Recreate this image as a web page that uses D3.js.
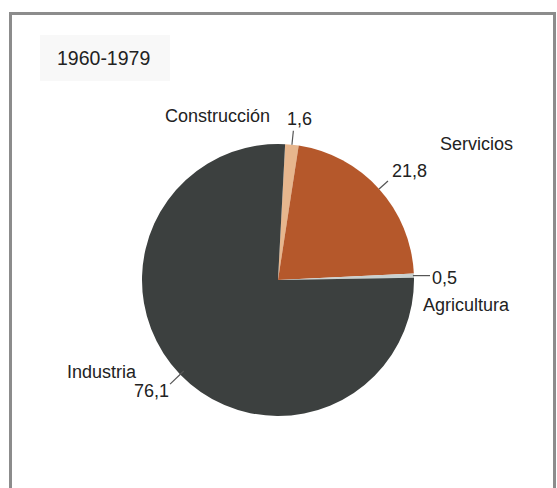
<!DOCTYPE html>
<html>
<head>
<meta charset="utf-8">
<script src="https://cdn.jsdelivr.net/npm/d3@7"></script>
<style>
  html, body { margin: 0; padding: 0; background: #fff; }
  svg { display: block; }
  text { font-family: "Liberation Sans", Arial, Helvetica, sans-serif; fill: #222; }
</style>
</head>
<body>
<svg id="chart" width="557" height="488"></svg>
<script>
// Share of each sector (%), 1960-1979
const title = "1960-1979";
const categories = ["Construcción", "Servicios", "Agricultura", "Industria"];
const values = [1.6, 21.8, 0.5, 76.1];
const valueLabels = ["1,6", "21,8", "0,5", "76,1"];
const colors = ["#e7b68d", "#b5582b", "#c9d0cf", "#3c403f"];

// Label placement for each sector: leader line (radii along slice middle) and text anchors
const labelLayout = {
  "Construcción": { r0: 136, r1: 150, horiz: false,
    val: { x: 287, y: 125, anchor: "start" }, name: { x: 270, y: 122, anchor: "end" } },
  "Servicios":    { r0: 136, r1: 148, horiz: false,
    val: { x: 392, y: 177, anchor: "start" }, name: { x: 440, y: 150, anchor: "start" } },
  "Agricultura":  { r0: 135, r1: 151, horiz: true,
    val: { x: 432, y: 284, anchor: "start" }, name: { x: 423, y: 311, anchor: "start" } },
  "Industria":    { r0: 131, r1: 150, horiz: false,
    val: { x: 169, y: 397, anchor: "end" }, name: { x: 136, y: 378, anchor: "end" } }
};

const svg = d3.select("#chart");
const cx = 278, cy = 280, radius = 136;

// Frame
svg.append("path")
  .attr("d", "M10.5,490 L10.5,13.5 L554.5,13.5 L554.5,490")
  .attr("fill", "none")
  .attr("stroke", "#8c8c8c")
  .attr("stroke-width", 3);

// Title with faint box
svg.append("rect")
  .attr("x", 40).attr("y", 35).attr("width", 130).attr("height", 46)
  .attr("fill", "#f8f8f8");
svg.append("text")
  .attr("x", 57).attr("y", 65)
  .attr("font-size", 19.5)
  .text(title);

const data = categories.map((c, i) => ({ name: c, value: values[i], label: valueLabels[i], color: colors[i] }));

const start = 3 * Math.PI / 180;
const pie = d3.pie()
  .sort(null)
  .value(d => d.value)
  .startAngle(start)
  .endAngle(start + 2 * Math.PI);

const arc = d3.arc().innerRadius(0).outerRadius(radius);
const arcs = pie(data);

const g = svg.append("g").attr("transform", `translate(${cx},${cy})`);

g.selectAll("path.slice")
  .data(arcs)
  .join("path")
  .attr("class", "slice")
  .attr("d", arc)
  .attr("fill", d => d.data.color);

// Leader lines and labels
const pt = (a, r) => [cx + r * Math.sin(a), cy - r * Math.cos(a)];
arcs.forEach(d => {
  const L = labelLayout[d.data.name];
  const mid = (d.startAngle + d.endAngle) / 2;
  const p0 = pt(mid, L.r0);
  let p1 = pt(mid, L.r1);
  if (L.horiz) p1 = [cx + L.r1 + 1, p0[1]];
  svg.append("line")
    .attr("x1", p0[0]).attr("y1", p0[1])
    .attr("x2", p1[0]).attr("y2", p1[1])
    .attr("stroke", "#555")
    .attr("stroke-width", 1.2);

  svg.append("text")
    .attr("x", L.val.x).attr("y", L.val.y)
    .attr("text-anchor", L.val.anchor)
    .attr("font-size", 18)
    .text(d.data.label);
  svg.append("text")
    .attr("x", L.name.x).attr("y", L.name.y)
    .attr("text-anchor", L.name.anchor)
    .attr("font-size", 18)
    .text(d.data.name);
});
</script>
</body>
</html>
